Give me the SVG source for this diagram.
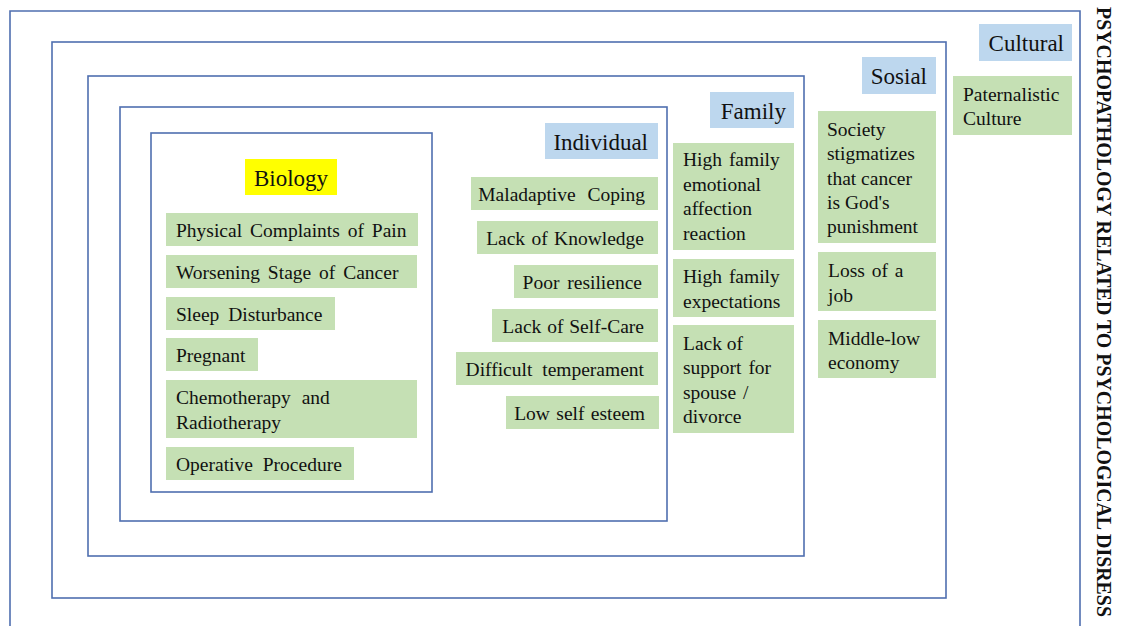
<svg xmlns="http://www.w3.org/2000/svg" width="1122" height="626" viewBox="0 0 1122 626">
<style>
.frame{fill:none;stroke:#4F6FB0;stroke-width:1.6}
.g{fill:#C5E0B4}
.b{fill:#BDD7EE}
.y{fill:#FFFF00}
text{font-family:"Liberation Serif","Times New Roman",serif;fill:#111}
.t{font-size:19.5px}
.w{word-spacing:3px}
.h{font-size:23px}
.r{text-anchor:end}
.v{font-size:22px;font-weight:bold}
</style>
<rect width="1122" height="626" fill="#fff"/>
<g id="frames">
<path class="frame" d="M10,630 V11 H1080 V630"/>
<rect class="frame" x="52" y="42" width="894" height="556"/>
<rect class="frame" x="88" y="76" width="716" height="480"/>
<rect class="frame" x="120" y="107" width="547" height="414"/>
<rect class="frame" x="151" y="133" width="281" height="359"/>
</g>
<g id="title"><text class="v" transform="translate(1097,7) rotate(90) scale(0.905,1)">PSYCHOPATHOLOGY RELATED TO PSYCHOLOGICAL DISRESS</text></g>
<g id="biology">
<rect class="y" x="245" y="159" width="92" height="36"/><text class="h" x="291" y="186" text-anchor="middle">Biology</text>
<rect class="g" x="166" y="213" width="252" height="33"/><text class="t w" x="176" y="237">Physical Complaints of Pain</text>
<rect class="g" x="166" y="255" width="251" height="33"/><text class="t w" x="176" y="279">Worsening Stage of Cancer</text>
<rect class="g" x="166" y="297" width="169" height="33"/><text class="t" x="176" y="321" word-spacing="4">Sleep Disturbance</text>
<rect class="g" x="166" y="338" width="92" height="33"/><text class="t" x="176" y="362">Pregnant</text>
<rect class="g" x="166" y="380" width="251" height="58"/><text class="t" x="176" y="404" word-spacing="6">Chemotherapy and</text><text class="t" x="176" y="429">Radiotherapy</text>
<rect class="g" x="166" y="447" width="188" height="33"/><text class="t" x="176" y="471" word-spacing="5">Operative Procedure</text>
</g>
<g id="individual">
<rect class="b" x="545" y="123" width="113" height="36"/><text class="h r" x="648" y="150">Individual</text>
<rect class="g" x="471" y="177" width="187" height="33"/><text class="t r" x="645" y="201" word-spacing="7">Maladaptive Coping</text>
<rect class="g" x="477" y="221" width="181" height="33"/><text class="t r" x="644" y="245" word-spacing="1.5">Lack of Knowledge</text>
<rect class="g" x="514" y="265" width="144" height="33"/><text class="t r" x="642" y="289" word-spacing="3">Poor resilience</text>
<rect class="g" x="492" y="309" width="166" height="33"/><text class="t r" x="644" y="333" word-spacing="1">Lack of Self-Care</text>
<rect class="g" x="456" y="352" width="202" height="33"/><text class="t r" x="644" y="376" word-spacing="5">Difficult temperament</text>
<rect class="g" x="506" y="396" width="153" height="33"/><text class="t r" x="645" y="420" word-spacing="1.5">Low self esteem</text>
</g>
<g id="family">
<rect class="b" x="710" y="92" width="84" height="36"/><text class="h r" x="786" y="119">Family</text>
<rect class="g" x="673" y="143" width="121" height="107"/>
<text class="t" x="683" y="166" word-spacing="2">High family</text><text class="t" x="683" y="191">emotional</text><text class="t" x="683" y="215">affection</text><text class="t" x="683" y="240">reaction</text>
<rect class="g" x="673" y="259" width="121" height="58"/>
<text class="t" x="683" y="283" word-spacing="2">High family</text><text class="t" x="683" y="308">expectations</text>
<rect class="g" x="673" y="325" width="121" height="108"/>
<text class="t" x="683" y="350">Lack of</text><text class="t" x="683" y="374" word-spacing="2">support for</text><text class="t" x="683" y="399" word-spacing="2">spouse /</text><text class="t" x="683" y="423">divorce</text>
</g>
<g id="sosial">
<rect class="b" x="862" y="57" width="74" height="37"/><text class="h r" x="927" y="84">Sosial</text>
<rect class="g" x="818" y="111" width="118" height="132"/>
<text class="t" x="827" y="136">Society</text><text class="t" x="827" y="160">stigmatizes</text><text class="t" x="827" y="185">that cancer</text><text class="t" x="827" y="209">is God's</text><text class="t" x="827" y="233">punishment</text>
<rect class="g" x="818" y="252" width="118" height="59"/>
<text class="t" x="828" y="277" word-spacing="2">Loss of a</text><text class="t" x="828" y="302">job</text>
<rect class="g" x="818" y="320" width="118" height="58"/>
<text class="t" x="828" y="345">Middle-low</text><text class="t" x="828" y="369">economy</text>
</g>
<g id="cultural">
<rect class="b" x="979" y="24" width="93" height="37"/><text class="h r" x="1064" y="51">Cultural</text>
<rect class="g" x="953" y="76" width="119" height="59"/>
<text class="t" x="963" y="101">Paternalistic</text><text class="t" x="963" y="125">Culture</text>
</g>
</svg>
